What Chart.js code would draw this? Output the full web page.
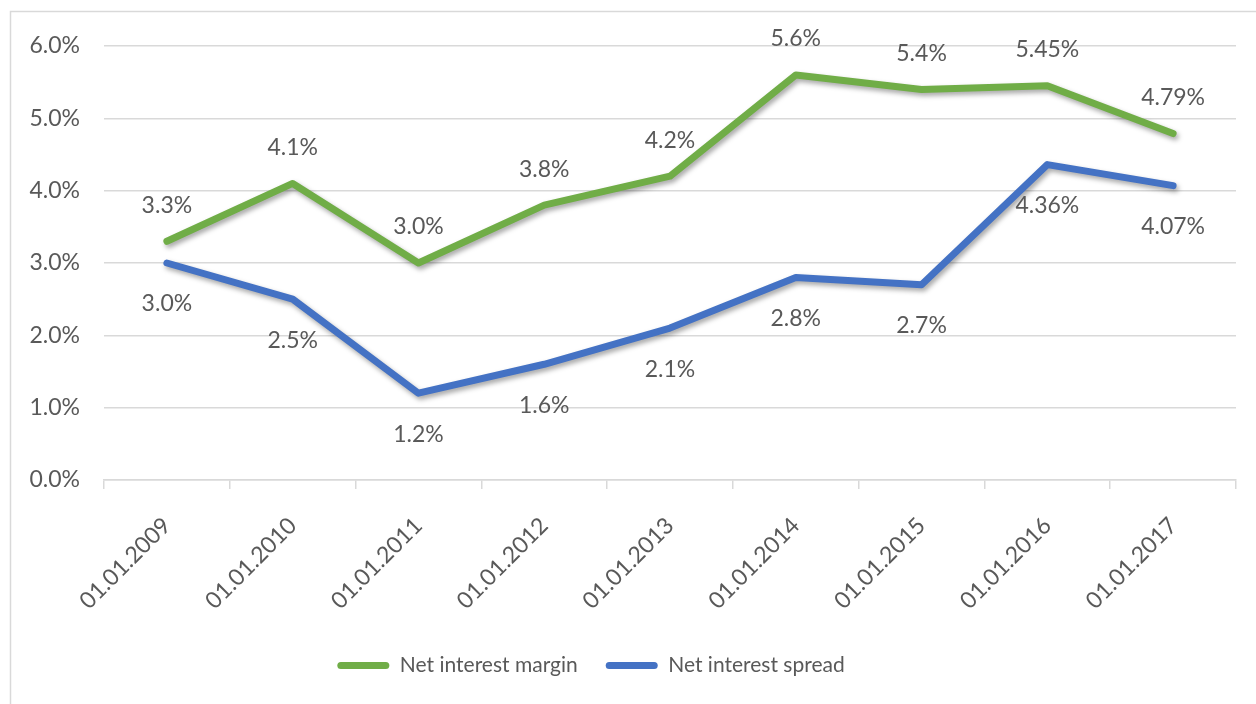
<!DOCTYPE html>
<html>
<head>
<meta charset="utf-8">
<script src="https://cdn.jsdelivr.net/npm/chart.js@4"></script>
<style>
  html, body { margin: 0; padding: 0; background: #fff; }
  #wrap { width: 1256px; height: 704px; position: relative; }
</style>
</head>
<body>
<div id="wrap"><canvas id="myChart" width="1256" height="704"></canvas></div>
<script>
// ---- data ----
var dates = ['01.01.2009', '01.01.2010', '01.01.2011', '01.01.2012', '01.01.2013',
             '01.01.2014', '01.01.2015', '01.01.2016', '01.01.2017'];
var marginValues = [3.3, 4.1, 3.0, 3.8, 4.2, 5.6, 5.4, 5.45, 4.79];
var spreadValues = [3.0, 2.5, 1.2, 1.6, 2.1, 2.8, 2.7, 4.36, 4.07];
var marginLabels = ['3.3%', '4.1%', '3.0%', '3.8%', '4.2%', '5.6%', '5.4%', '5.45%', '4.79%'];
var spreadLabels = ['3.0%', '2.5%', '1.2%', '1.6%', '2.1%', '2.8%', '2.7%', '4.36%', '4.07%'];
var yTicks = [0, 1, 2, 3, 4, 5, 6];

var FONT = "Lato, 'Noto Sans', sans-serif";
var FS = 23;
var textColor = '#595959';
var gridColor = '#d9d9d9';

// outer frame like the office chart border
var framePlugin = {
  id: 'frame',
  beforeDraw: function(chart){
    var c = chart.ctx;
    c.save();
    c.strokeStyle = '#d9d9d9';
    c.lineWidth = 1.5;
    c.strokeRect(10.5, 11.5, chart.width + 20, chart.height + 20);
    c.restore();
  },
  // the legend sits a bit left of centre in the original
  afterLayout: function(chart){
    if (chart.legend) {
      chart.legend.left -= 27;
      chart.legend.right -= 27;
    }
  }
};

// soft shadow under the lines
var shadowPlugin = {
  id: 'lineShadow',
  beforeDatasetsDraw: function(chart){
    var c = chart.ctx;
    c.save();
    c.shadowColor = 'rgba(0,0,0,0.35)';
    c.shadowBlur = 5;
    c.shadowOffsetX = 2;
    c.shadowOffsetY = 3;
  },
  afterDatasetsDraw: function(chart){
    chart.ctx.restore();
  }
};

// value labels: margin above, spread below
var labelPlugin = {
  id: 'valueLabels',
  afterDatasetsDraw: function(chart){
    var c = chart.ctx;
    var sets = [[0, marginLabels, -36], [1, spreadLabels, 41]];
    c.save();
    c.font = FS + 'px ' + FONT;
    c.fillStyle = textColor;
    c.textAlign = 'center';
    c.textBaseline = 'middle';
    sets.forEach(function(s){
      var meta = chart.getDatasetMeta(s[0]);
      meta.data.forEach(function(pt, i){
        c.fillText(s[1][i], pt.x, pt.y + s[2]);
      });
    });
    c.restore();
  }
};

var ctx = document.getElementById('myChart').getContext('2d');

new Chart(ctx, {
  type: 'line',
  data: {
    labels: dates,
    datasets: [{
      label: 'Net interest margin',
      data: marginValues,
      borderColor: '#70AD47',
      backgroundColor: '#70AD47',
      borderWidth: 7,
      borderCapStyle: 'round',
      borderJoinStyle: 'round',
      pointRadius: 0,
      tension: 0
    }, {
      label: 'Net interest spread',
      data: spreadValues,
      borderColor: '#4472C4',
      backgroundColor: '#4472C4',
      borderWidth: 7,
      borderCapStyle: 'round',
      borderJoinStyle: 'round',
      pointRadius: 0,
      tension: 0
    }]
  },
  options: {
    responsive: false,
    animation: false,
    layout: { padding: { top: 46, right: 20, left: 0, bottom: 18 } },
    plugins: {
      tooltip: { enabled: false },
      legend: {
        position: 'bottom',
        labels: {
          boxWidth: 52,
          boxHeight: 7,
          padding: 28,
          color: textColor,
          font: { family: FONT, size: 21 },
          generateLabels: function(chart){
            return chart.data.datasets.map(function(ds, i){
              return {
                text: ds.label,
                fillStyle: ds.borderColor,
                strokeStyle: ds.borderColor,
                lineWidth: 0,
                borderRadius: 3.5,
                datasetIndex: i,
                fontColor: textColor
              };
            });
          }
        }
      }
    },
    scales: {
      x: {
        offset: true,
        grid: { offset: true, drawOnChartArea: false, drawTicks: true, tickLength: 9, color: gridColor, lineWidth: 1.5 },
        border: { display: true, color: gridColor, width: 1.5 },
        ticks: {
          color: textColor,
          font: { family: FONT, size: FS },
          minRotation: 45,
          maxRotation: 45,
          padding: 23
        },
        afterFit: function(scale){ scale.height = 147; }
      },
      y: {
        min: 0,
        max: 6,
        afterBuildTicks: function(scale){
          scale.ticks = yTicks.map(function(v){ return { value: v }; });
        },
        grid: { color: gridColor, lineWidth: 1.5, drawTicks: false },
        border: { display: false },
        ticks: {
          color: textColor,
          font: { family: FONT, size: FS },
          padding: 24,
          callback: function(v){ return v.toFixed(1) + '%'; }
        },
        afterFit: function(scale){ scale.width = 104; }
      }
    }
  },
  plugins: [framePlugin, shadowPlugin, labelPlugin]
});
</script>
</body>
</html>
